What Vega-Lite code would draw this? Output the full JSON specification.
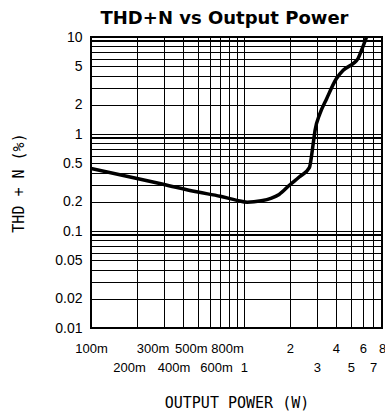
{
  "$schema": "https://vega.github.io/schema/vega-lite/v6.json",
  "autosize": "none",
  "width": 291,
  "height": 291,
  "padding": {"left": 91, "top": 37, "right": 3, "bottom": 85},
  "background": "white",
  "title": {
    "text": "THD+N vs Output Power",
    "font": "DejaVu Sans",
    "fontSize": 18,
    "fontWeight": "bold",
    "color": "black",
    "anchor": "middle",
    "dx": -12,
    "offset": 2
  },
  "config": {
    "view": {"stroke": "black", "strokeWidth": 2},
    "axis": {
      "grid": true,
      "gridColor": "black",
      "gridOpacity": 1,
      "gridWidth": 1,
      "ticks": false,
      "tickSize": 0,
      "domain": false,
      "labelFont": "Liberation Sans",
      "labelFontSize": 14,
      "labelColor": "black",
      "labelFlush": false,
      "labelOverlap": false,
      "labelBound": false,
      "titleFont": "DejaVu Sans Mono",
      "titleFontSize": 15,
      "titleFontWeight": "normal",
      "titleColor": "black"
    }
  },
  "data": {
    "values": [
      {"power": 0.1, "thdn": 0.44},
      {"power": 0.2, "thdn": 0.348},
      {"power": 0.3, "thdn": 0.302},
      {"power": 0.5, "thdn": 0.252},
      {"power": 0.7, "thdn": 0.228},
      {"power": 0.9, "thdn": 0.207},
      {"power": 1.05, "thdn": 0.198},
      {"power": 1.3, "thdn": 0.205},
      {"power": 1.5, "thdn": 0.217},
      {"power": 1.7, "thdn": 0.238},
      {"power": 2.0, "thdn": 0.3},
      {"power": 2.3, "thdn": 0.36},
      {"power": 2.68, "thdn": 0.45},
      {"power": 2.84, "thdn": 0.8},
      {"power": 2.92, "thdn": 1.09},
      {"power": 3.14, "thdn": 1.62},
      {"power": 3.47, "thdn": 2.3},
      {"power": 4.03, "thdn": 3.73},
      {"power": 4.46, "thdn": 4.54},
      {"power": 5.18, "thdn": 5.32},
      {"power": 5.58, "thdn": 6.0},
      {"power": 5.88, "thdn": 7.3},
      {"power": 6.34, "thdn": 10.0}
    ]
  },
  "mark": {"type": "line", "color": "black", "strokeWidth": 3.5, "interpolate": "monotone", "clip": true},
  "encoding": {
    "x": {
      "field": "power",
      "type": "quantitative",
      "scale": {"type": "log", "domain": [0.1, 8], "nice": false},
      "axis": {
        "title": "OUTPUT POWER (W)",
        "titlePadding": 21,
        "labelPadding": 14,
        "labelFontSize": 13,
        "labelBaseline": "top",
        "labelLineHeight": 19.5,
        "labelOffset": {
          "condition": [
            {"test": "datum.value == 0.2", "value": -8},
            {"test": "datum.value == 0.3", "value": -11.5},
            {"test": "datum.value == 0.4", "value": -9.5},
            {"test": "datum.value == 0.5", "value": -7},
            {"test": "datum.value == 0.6", "value": 6},
            {"test": "datum.value == 0.8", "value": -2}
          ],
          "value": 0
        },
        "values": [0.1, 0.2, 0.3, 0.4, 0.5, 0.6, 0.7, 0.8, 0.9, 1, 2, 3, 4, 5, 6, 7, 8],
        "labelExpr": "indexof([0.1,0.3,0.5,0.8,2,4,6,8], datum.value) >= 0 ? (datum.value < 1 ? round(datum.value*1000) + 'm' : toString(datum.value)) : (indexof([0.2,0.4,0.6,1,3,5,7], datum.value) >= 0 ? [' ', (datum.value < 1 ? round(datum.value*1000) + 'm' : toString(datum.value))] : '')"
      }
    },
    "y": {
      "field": "thdn",
      "type": "quantitative",
      "scale": {"type": "log", "domain": [0.01, 10], "nice": false},
      "axis": {
        "title": "THD + N (%)",
        "titlePadding": 28,
        "labelPadding": 9,
        "values": [0.01, 0.02, 0.03, 0.04, 0.05, 0.06, 0.07, 0.08, 0.09, 0.094, 0.1, 0.2, 0.3, 0.4, 0.5, 0.6, 0.7, 0.8, 0.9, 0.93, 1, 2, 3, 4, 5, 6, 7, 8, 9, 9.4, 10],
        "labelExpr": "indexof([10,5,2,1,0.5,0.2,0.1,0.05,0.02,0.01], datum.value) >= 0 ? toString(datum.value) : ''"
      }
    }
  }
}
